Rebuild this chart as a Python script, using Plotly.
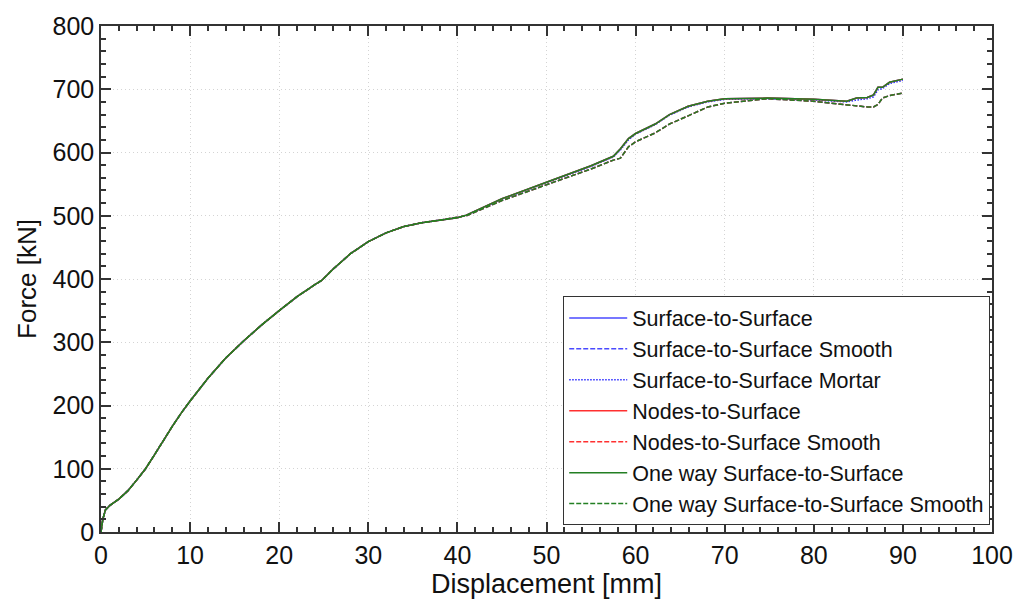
import plotly.graph_objects as go

# Displacement [mm]
disp = [0, 0.2, 0.5, 1, 2, 3, 4, 5, 6, 7, 8, 9, 10, 12, 14, 16, 18, 20, 22, 24, 24.8,
        26, 28, 30, 32, 34, 36, 38, 40, 41, 45, 50, 55, 57.5, 58.3, 59.2, 60, 62.2,
        63.8, 65.9, 68.1, 70, 74.8, 80, 83.7, 84.8, 86, 86.7, 87.2, 87.7, 88.5, 90]

# Upper branch (regular contact formulations)
force_upper = [0, 20, 35, 42, 52, 65, 82, 100, 122, 145, 167, 188, 207, 243, 275, 302, 327,
               350, 372, 391, 398, 415, 440, 459, 473, 483, 489, 493, 497, 501, 527, 553,
               579, 594, 606, 622, 630, 645, 660, 673, 681, 685, 686, 684, 681, 686, 687,
               691, 703, 703, 711, 716]

# Mortar variant (almost identical to upper branch)
force_mortar = [0, 20, 35, 42, 52, 65, 82, 100, 122, 145, 167, 188, 207, 243, 275, 302, 327,
                350, 372, 391, 398, 415, 440, 459, 473, 483, 489, 493, 497, 501, 526, 552,
                578, 593, 604, 620, 629, 644, 659, 672, 680, 684, 685, 683, 680, 683, 685,
                688, 699, 701, 709, 714]

# Lower branch (smoothed contact formulations)
force_lower = [0, 20, 35, 42, 52, 65, 82, 100, 122, 145, 167, 188, 207, 243, 275, 302, 327,
               350, 372, 391, 398, 415, 440, 459, 473, 483, 489, 493, 497, 500, 524, 549,
               574, 588, 591, 609, 617, 631, 645, 658, 672, 678, 685, 681, 675, 674, 672,
               672, 676, 686, 690, 694]

names = ["Surface-to-Surface", "Surface-to-Surface Smooth", "Surface-to-Surface Mortar",
         "Nodes-to-Surface", "Nodes-to-Surface Smooth", "One way Surface-to-Surface",
         "One way Surface-to-Surface Smooth"]
series = [force_upper, force_lower, force_mortar, force_upper, force_lower, force_upper, force_lower]
colors = ["#4a4aff", "#4a4aff", "#2a2aff", "#ff3030", "#ff3030", "#237f23", "#237f23"]
dashes = ["solid", "5px,2px", "1.5px,1.5px", "solid", "5px,2px", "solid", "5px,2px"]

fig = go.Figure()
for n, y, c, d in zip(names, series, colors, dashes):
    fig.add_trace(go.Scatter(x=disp, y=y, mode="lines", name=n,
                             line=dict(color=c, dash=d, width=1.5)))

FONT = "Liberation Sans, Arial"
axis_common = dict(
    showline=True, linecolor="#333333", linewidth=1.5, mirror="ticks",
    ticks="inside", ticklen=10, tickwidth=1.5, tickcolor="#333333",
    showgrid=True, gridcolor="#d4d4d4", griddash="1px,3px", gridwidth=1,
    zeroline=False,
    tickfont=dict(family=FONT, size=25, color="#111111"),
)

fig.update_xaxes(range=[0, 100], dtick=10,
                 minor=dict(ticks="inside", ticklen=5, dtick=2, tickcolor="#333333", showgrid=False),
                 title=dict(text="Displacement [mm]", font=dict(family=FONT, size=27, color="#111111"), standoff=6),
                 **axis_common)
fig.update_yaxes(range=[0, 800], dtick=100,
                 minor=dict(ticks="inside", ticklen=5, dtick=20, tickcolor="#333333", showgrid=False),
                 title=dict(text="Force [kN]", font=dict(family=FONT, size=26, color="#111111"), standoff=8),
                 **axis_common)

fig.update_layout(
    width=1025, height=606,
    margin=dict(l=101, r=25, t=20, b=70),
    plot_bgcolor="white", paper_bgcolor="white",
    legend=dict(x=0.998, y=0.013, xanchor="right", yanchor="bottom",
                bgcolor="white", bordercolor="#333333", borderwidth=1,
                font=dict(family=FONT, size=21.5, color="#111111"),
                itemwidth=58, tracegroupgap=0),
    showlegend=True,
)

fig.write_html("out.html")
